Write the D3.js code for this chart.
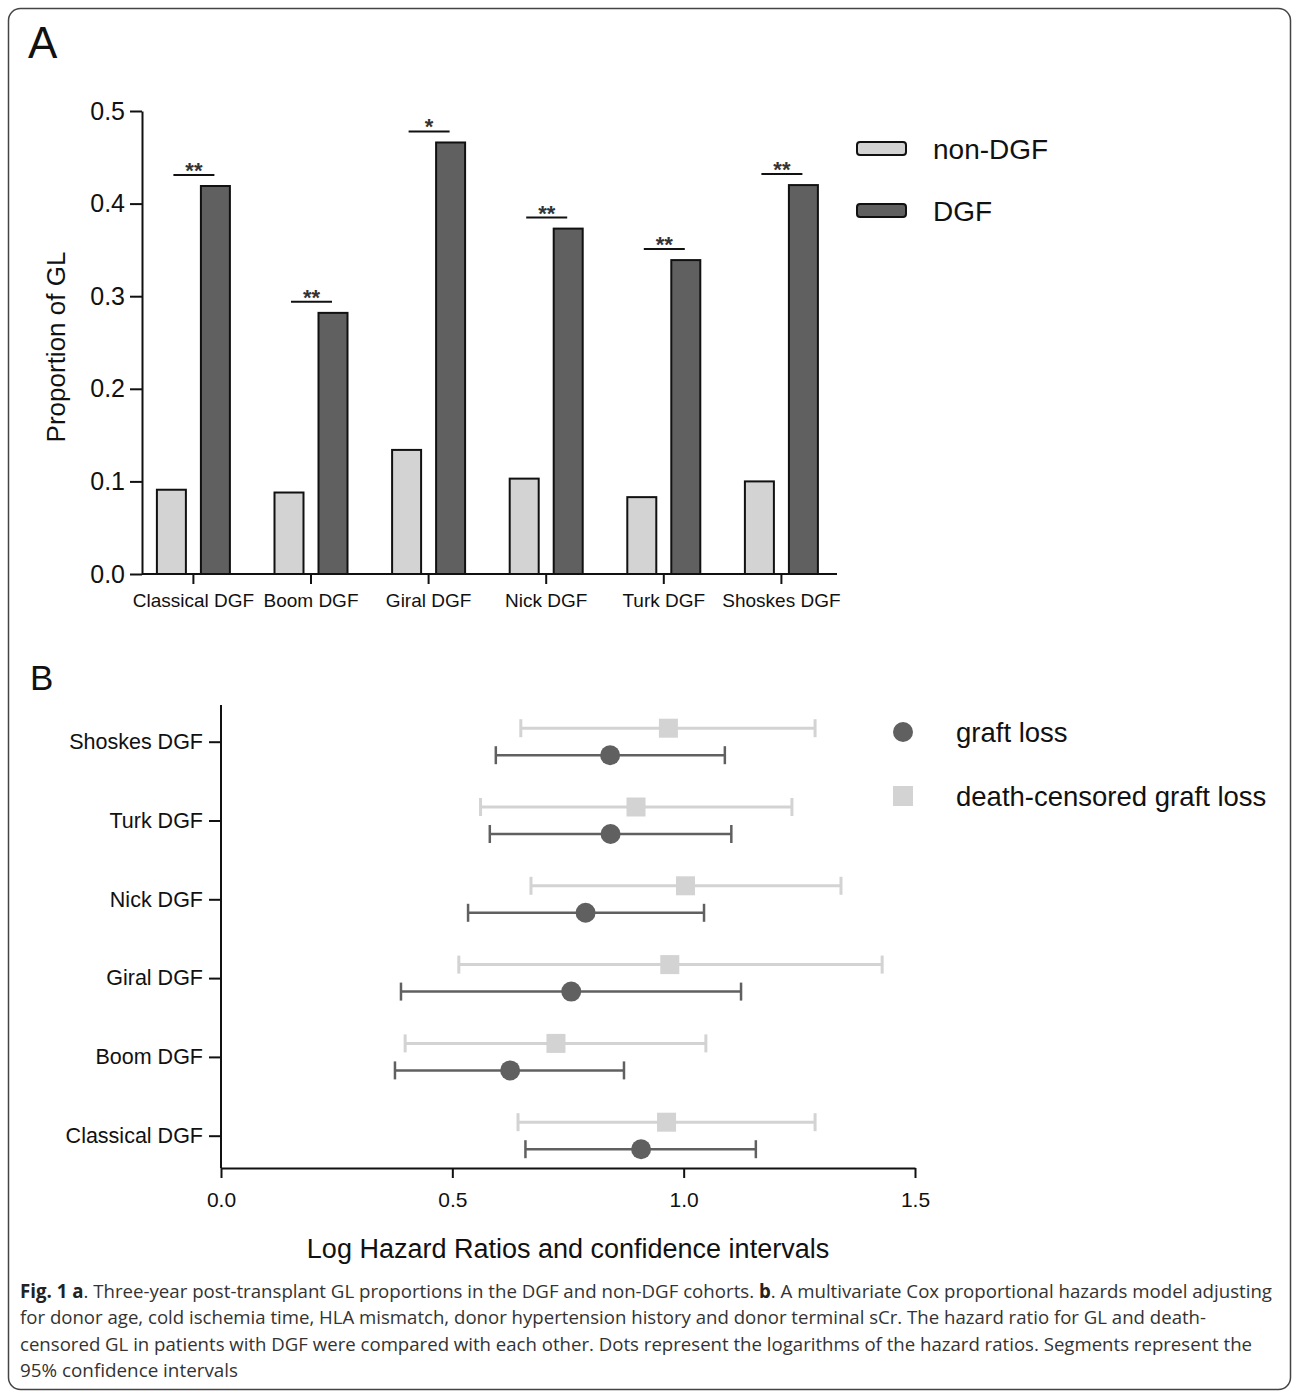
<!DOCTYPE html>
<html>
<head>
<meta charset="utf-8">
<script src="https://cdn.jsdelivr.net/npm/d3@7"></script>
<style>
  body { margin: 0; background: #fff; }
  svg text { font-family: "Liberation Sans", Arial, sans-serif; fill: #111; }
  .caption text { font-family: "Open Sans", sans-serif; fill: #333; }
</style>
</head>
<body>
<svg id="fig" width="1292" height="1391"></svg>
<script>
// panel A data
var categories = ["Classical DGF", "Boom DGF", "Giral DGF", "Nick DGF", "Turk DGF", "Shoskes DGF"];
var groups = ["non-DGF", "DGF"];
var nonDGF = [0.091, 0.088, 0.134, 0.103, 0.083, 0.100];
var DGF = [0.419, 0.282, 0.466, 0.373, 0.339, 0.420];
var significance = ["**", "**", "*", "**", "**", "**"];
var yTicksA = [0, 0.1, 0.2, 0.3, 0.4, 0.5];

// panel B data (log hazard ratios, 95% CI)
var glPoint = [0.908, 0.625, 0.757, 0.788, 0.842, 0.841];
var glLow   = [0.658, 0.376, 0.389, 0.534, 0.581, 0.594];
var glHigh  = [1.156, 0.871, 1.124, 1.044, 1.103, 1.089];
var dcPoint = [0.963, 0.724, 0.970, 1.004, 0.897, 0.967];
var dcLow   = [0.642, 0.398, 0.514, 0.670, 0.561, 0.648];
var dcHigh  = [1.284, 1.048, 1.429, 1.340, 1.234, 1.284];
var xTicksB = [0, 0.5, 1.0, 1.5];
var seriesB = ["graft loss", "death-censored graft loss"];

var dark = "#606060", light = "#d3d3d3";

var svg = d3.select("#fig");

// frame
svg.append("rect")
    .attr("x", 8.5).attr("y", 8.5)
    .attr("width", 1282).attr("height", 1381)
    .attr("rx", 12)
    .attr("fill", "none")
    .attr("stroke", "#444")
    .attr("stroke-width", 1.5);

// ---------- panel A ----------
svg.append("text").attr("x", 28).attr("y", 58)
    .style("font-size", "44px").text("A");

var yA = d3.scaleLinear().domain([0, 0.5]).range([574, 111]);
var xA = d3.scaleBand().domain(categories).range([134.6, 840.2]);
var xSub = d3.scaleBand().domain(groups).range([-36.5, 36.5]).paddingInner(0.341);

var gA = svg.append("g");

var rowsA = categories.map(function(c, i) {
  return {cat: c, vals: [nonDGF[i], DGF[i]], sig: significance[i]};
});

var grp = gA.selectAll(".grp").data(rowsA).enter().append("g")
    .attr("transform", function(d) { return "translate(" + (xA(d.cat) + xA.bandwidth() / 2) + ",0)"; });

grp.selectAll("rect")
    .data(function(d) { return d.vals.map(function(v, j) { return {g: groups[j], v: v}; }); })
    .enter().append("rect")
    .attr("x", function(d) { return xSub(d.g); })
    .attr("width", xSub.bandwidth())
    .attr("y", function(d) { return yA(d.v); })
    .attr("height", function(d) { return yA(0) - yA(d.v); })
    .attr("fill", function(d) { return d.g == "DGF" ? dark : light; })
    .attr("stroke", "#111")
    .attr("stroke-width", 2);

grp.append("line")
    .attr("x1", -20).attr("x2", 21)
    .attr("y1", function(d) { return yA(d.vals[1]) - 11; })
    .attr("y2", function(d) { return yA(d.vals[1]) - 11; })
    .attr("stroke", "#111").attr("stroke-width", 2);

grp.append("text")
    .attr("x", 0.5)
    .attr("y", function(d) { return yA(d.vals[1]) - 8; })
    .attr("text-anchor", "middle")
    .style("font-size", "22px")
    .style("font-weight", "bold")
    .style("fill", "#333")
    .text(function(d) { return d.sig; });

var axYA = gA.append("g")
    .attr("transform", "translate(142,0)")
    .call(d3.axisLeft(yA).tickValues(yTicksA).tickFormat(d3.format(".1f")).tickSize(12).tickPadding(5).tickSizeOuter(0));
axYA.selectAll("text").style("font-size", "25px");

var axXA = gA.append("g")
    .attr("transform", "translate(0,574)")
    .call(d3.axisBottom(xA).tickSize(10).tickPadding(10).tickSizeOuter(0));
axXA.select(".domain").attr("d", "M142,0H837");
axXA.selectAll("text").style("font-size", "19px");

[axYA, axXA].forEach(function(a) {
  a.selectAll("line, path").attr("stroke", "#111").attr("stroke-width", 2);
});

svg.append("text")
    .attr("transform", "translate(65,347) rotate(-90)")
    .attr("text-anchor", "middle")
    .style("font-size", "26px")
    .text("Proportion of GL");

// legend A
var legA = svg.append("g").selectAll("g").data(groups).enter().append("g")
    .attr("transform", function(d, i) { return "translate(857," + (142 + i * 62) + ")"; });
legA.append("rect")
    .attr("width", 49).attr("height", 13).attr("rx", 3)
    .attr("fill", function(d) { return d == "DGF" ? dark : light; })
    .attr("stroke", "#111").attr("stroke-width", 2);
legA.append("text")
    .attr("x", 76).attr("y", 17)
    .style("font-size", "28px")
    .text(function(d) { return d; });

// ---------- panel B ----------
svg.append("text").attr("x", 30).attr("y", 690)
    .style("font-size", "35px").text("B");

var xB = d3.scaleLinear().domain([0, 1.5]).range([221, 915]);
var yB = d3.scalePoint().domain(categories).range([1135.7, 741.7]);

var gB = svg.append("g");

var axYB = gB.append("g")
    .attr("transform", "translate(221,0)")
    .call(d3.axisLeft(yB).tickSize(12).tickPadding(6).tickSizeOuter(0));
axYB.select(".domain").attr("d", "M0,705V1168");
axYB.selectAll("text").style("font-size", "21.5px");

var axXB = gB.append("g")
    .attr("transform", "translate(0,1168)")
    .call(d3.axisBottom(xB).tickValues(xTicksB).tickFormat(d3.format(".1f")).tickSize(10).tickPadding(14).tickSizeOuter(0));
axXB.selectAll("text").style("font-size", "21px");

[axYB, axXB].forEach(function(a) {
  a.selectAll("line, path").attr("stroke", "#111").attr("stroke-width", 2);
});

svg.append("text")
    .attr("x", 568).attr("y", 1258)
    .attr("text-anchor", "middle")
    .style("font-size", "27px")
    .text("Log Hazard Ratios and confidence intervals");

var rowsB = categories.map(function(c, i) {
  return {cat: c,
    dc: {lo: dcLow[i], pt: dcPoint[i], hi: dcHigh[i]},
    gl: {lo: glLow[i], pt: glPoint[i], hi: glHigh[i]}};
});

function drawCI(sel, key, dy, col, sw) {
  sel.append("line")
      .attr("x1", function(d) { return xB(d[key].lo); })
      .attr("x2", function(d) { return xB(d[key].hi); })
      .attr("y1", function(d) { return yB(d.cat) + dy; })
      .attr("y2", function(d) { return yB(d.cat) + dy; })
      .attr("stroke", col).attr("stroke-width", sw);
  ["lo", "hi"].forEach(function(e) {
    sel.append("line")
        .attr("x1", function(d) { return xB(d[key][e]); })
        .attr("x2", function(d) { return xB(d[key][e]); })
        .attr("y1", function(d) { return yB(d.cat) + dy - 9; })
        .attr("y2", function(d) { return yB(d.cat) + dy + 9; })
        .attr("stroke", col).attr("stroke-width", sw);
  });
}

var rowB = gB.selectAll(".row").data(rowsB).enter().append("g");
drawCI(rowB, "dc", -13.5, light, 3);
drawCI(rowB, "gl", 13.5, dark, 2.5);

rowB.append("rect")
    .attr("x", function(d) { return xB(d.dc.pt) - 9.5; })
    .attr("y", function(d) { return yB(d.cat) - 13.5 - 9.5; })
    .attr("width", 19).attr("height", 19)
    .attr("fill", light);

rowB.append("circle")
    .attr("cx", function(d) { return xB(d.gl.pt); })
    .attr("cy", function(d) { return yB(d.cat) + 13.5; })
    .attr("r", 10)
    .attr("fill", dark);

// legend B
var legB = svg.append("g").selectAll("g").data(seriesB).enter().append("g")
    .attr("transform", function(d, i) { return "translate(903," + (732 + i * 64) + ")"; });
legB.each(function(d, i) {
  var g = d3.select(this);
  if (i == 0) g.append("circle").attr("r", 10).attr("fill", dark);
  else g.append("rect").attr("x", -10).attr("y", -10).attr("width", 20).attr("height", 20).attr("fill", light);
});
legB.append("text")
    .attr("x", 53).attr("y", 10)
    .style("font-size", "27.5px")
    .text(function(d) { return d; });

// ---------- caption ----------
var captionLines = [
  [["Fig. 1 a", true], [". Three-year post-transplant GL proportions in the DGF and non-DGF cohorts. ", false], ["b", true], [". A multivariate Cox proportional hazards model adjusting", false]],
  [["for donor age, cold ischemia time, HLA mismatch, donor hypertension history and donor terminal sCr. The hazard ratio for GL and death-", false]],
  [["censored GL in patients with DGF were compared with each other. Dots represent the logarithms of the hazard ratios. Segments represent the", false]],
  [["95% confidence intervals", false]]
];
var captionWidths = [1252, 1186, 1232, 218];

var cap = svg.append("g").attr("class", "caption");
var capText = cap.selectAll("text").data(captionLines).enter().append("text")
    .attr("x", 20)
    .attr("y", function(d, i) { return 1298 + i * 26.3; })
    .style("font-size", "17px");
capText.selectAll("tspan").data(function(d) { return d; }).enter().append("tspan")
    .style("font-weight", function(d) { return d[1] ? "bold" : "normal"; })
    .style("fill", function(d) { return d[1] ? "#222" : "#333"; })
    .text(function(d) { return d[0]; });

// fit caption font size to the measured line widths
var ratio = 0;
capText.each(function(d, i) { ratio += captionWidths[i] / this.getComputedTextLength(); });
ratio /= captionLines.length;
capText.style("font-size", (17 * ratio) + "px");
capText.attr("textLength", function(d, i) { return captionWidths[i]; })
    .attr("lengthAdjust", "spacingAndGlyphs");
</script>
</body>
</html>
